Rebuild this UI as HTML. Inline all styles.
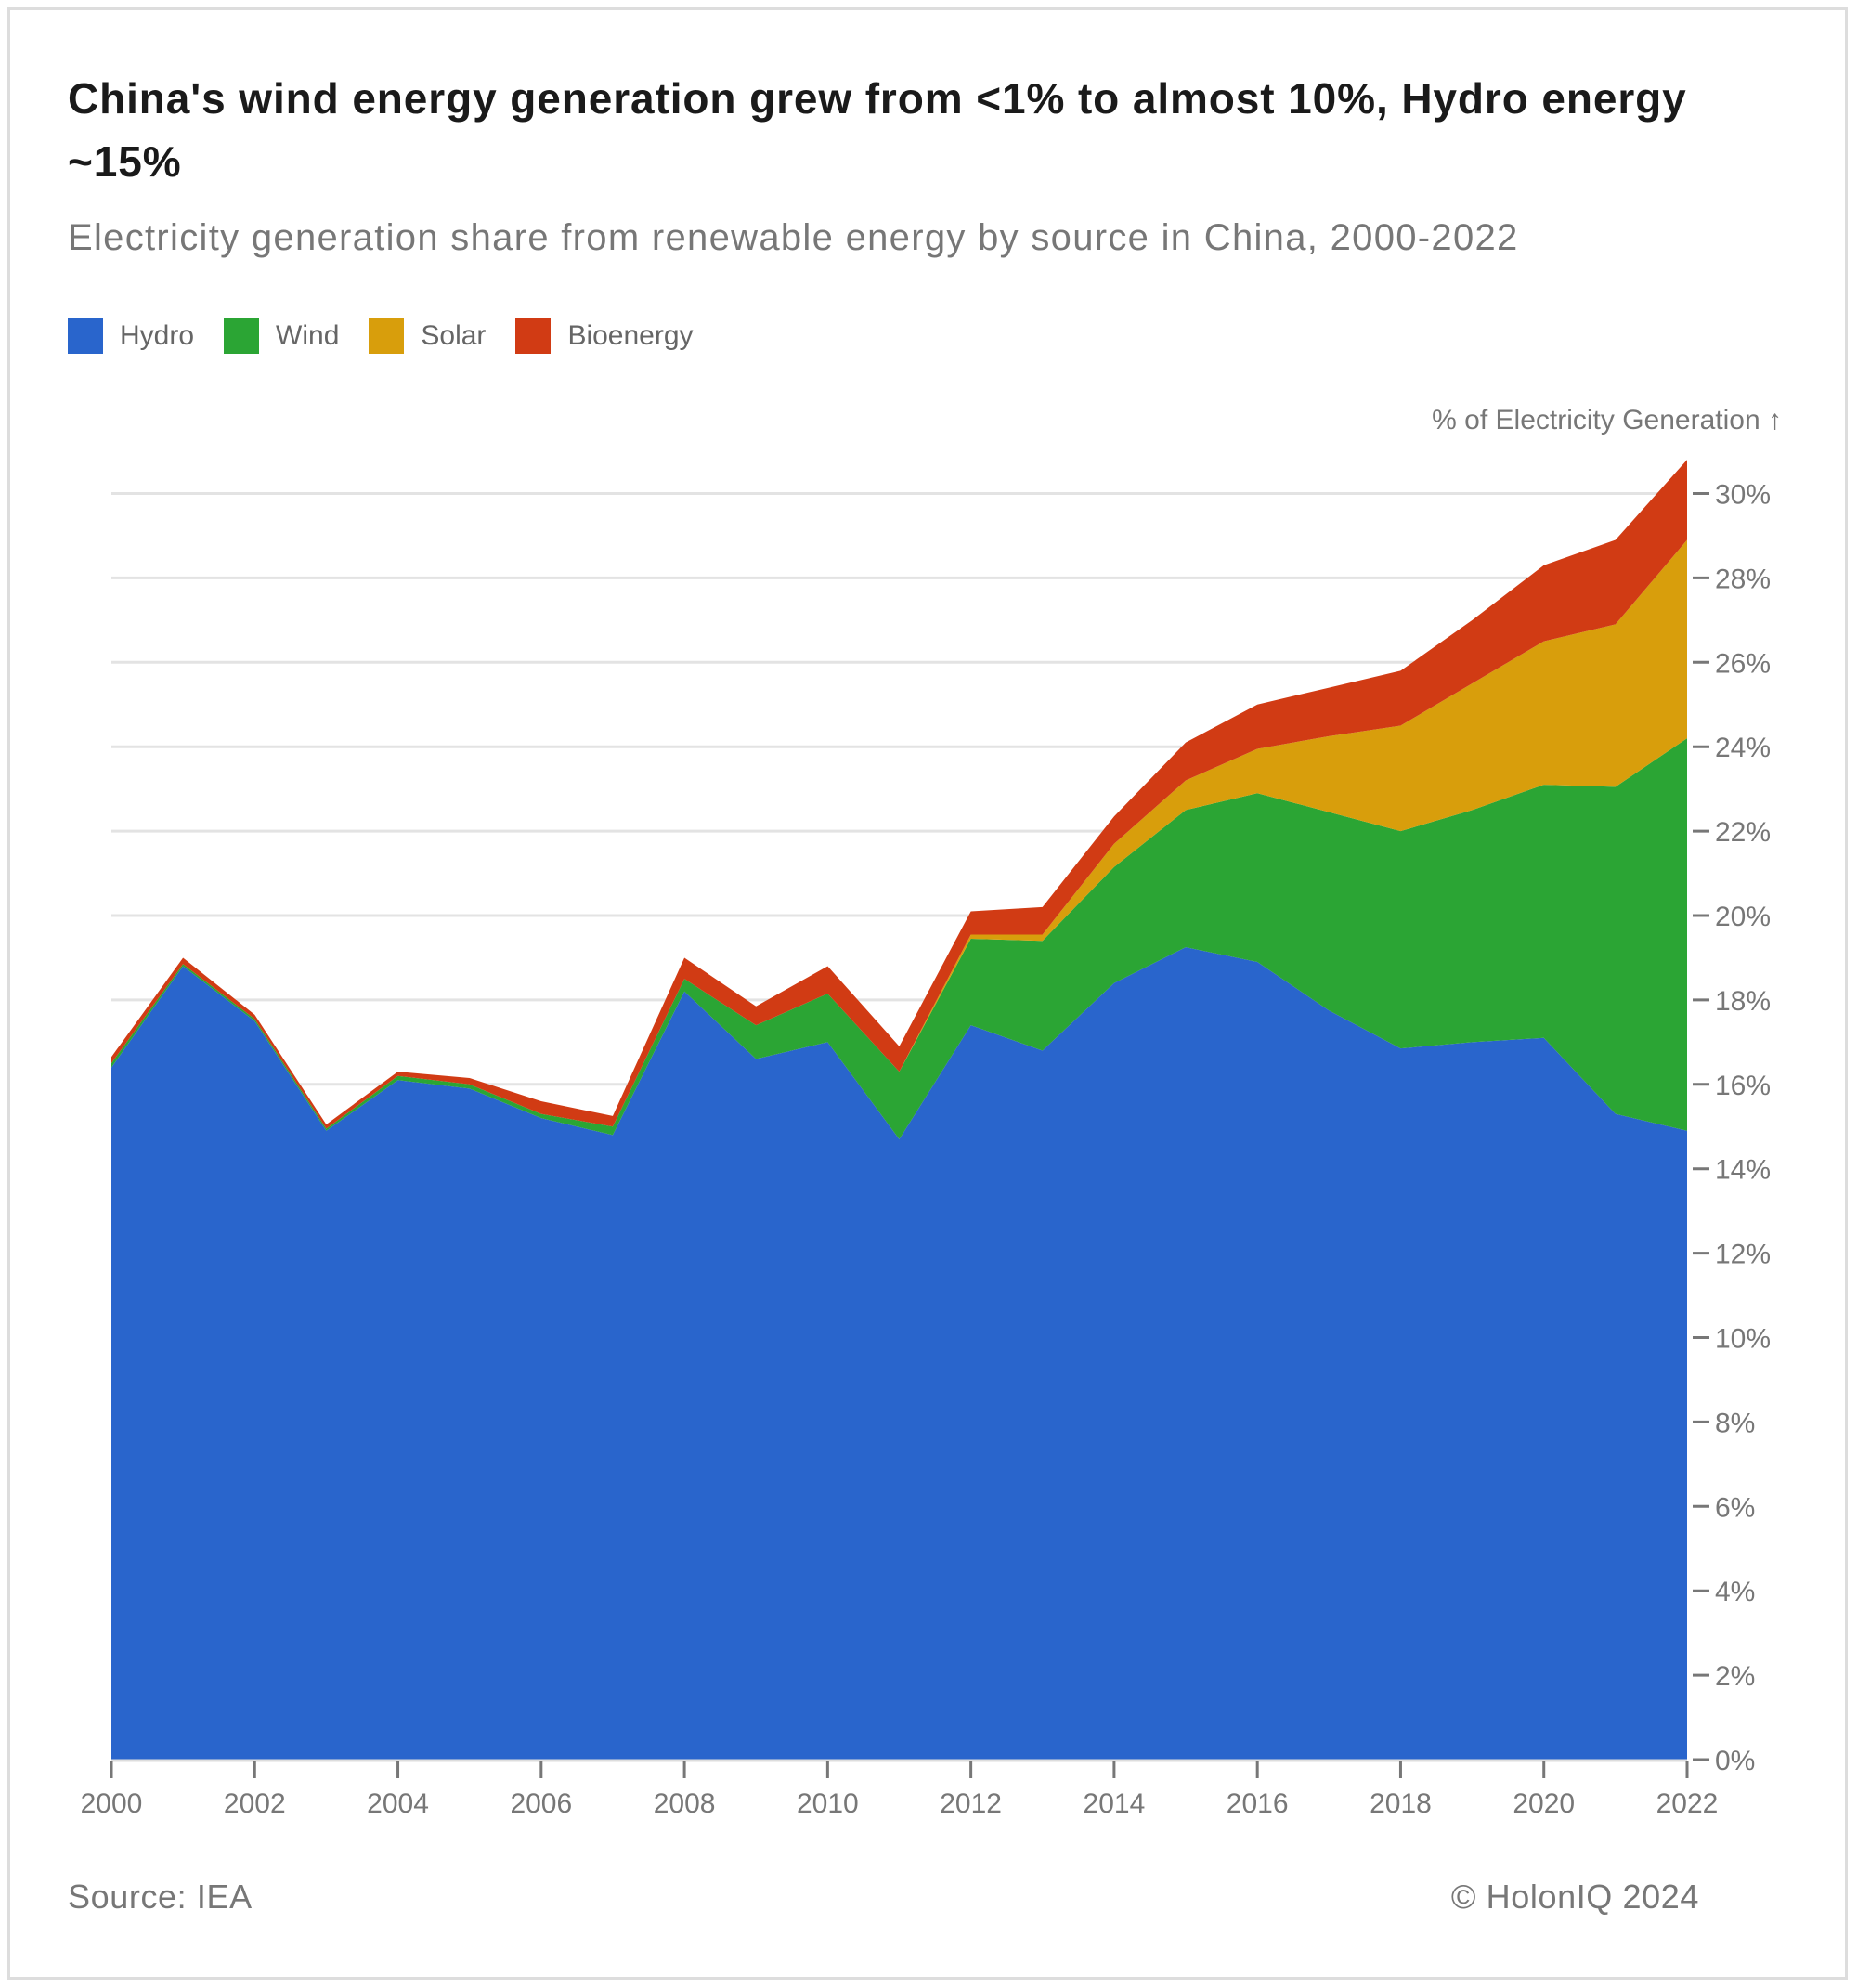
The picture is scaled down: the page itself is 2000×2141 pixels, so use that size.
<!DOCTYPE html>
<html><head><meta charset="utf-8"><style>
html,body{margin:0;padding:0;background:#fff;}
body{width:2000px;height:2141px;position:relative;font-family:"Liberation Sans",sans-serif;overflow:hidden;}
.frame{position:absolute;left:8px;top:8px;width:1982px;height:2124px;border:3px solid #ddd;box-sizing:border-box;}
.title{position:absolute;left:73px;top:72px;width:1850px;font-size:46px;font-weight:bold;color:#1a1a1a;line-height:68px;letter-spacing:0.9px;}
.sub{position:absolute;left:73px;top:234px;font-size:40px;color:#777;letter-spacing:1.3px;}
.legend{position:absolute;left:73px;top:343px;font-size:30px;color:#666;display:flex;align-items:center;}
.legend span.sw{display:inline-block;width:38px;height:38px;margin-right:18px;}
.legend .it{display:flex;align-items:center;margin-right:32px;}
.foot{position:absolute;top:2022px;font-size:36px;color:#777;letter-spacing:0.6px;}
</style></head><body>
<div class="frame"></div>
<div class="title">China's wind energy generation grew from &lt;1% to almost 10%, Hydro energy<br>~15%</div>
<div class="sub">Electricity generation share from renewable energy by source in China, 2000-2022</div>
<div class="legend">
<div class="it"><span class="sw" style="background:#2965cc"></span>Hydro</div>
<div class="it"><span class="sw" style="background:#2ba534"></span>Wind</div>
<div class="it"><span class="sw" style="background:#d89e0c"></span>Solar</div>
<div class="it"><span class="sw" style="background:#d13b14"></span>Bioenergy</div>
</div>
<svg id="chart" width="2000" height="2141" style="position:absolute;left:0;top:0"></svg>
<div class="foot" style="left:73px">Source: IEA</div>
<div class="foot" style="right:170px">© HolonIQ 2024</div>
<script>
const years=[2000,2001,2002,2003,2004,2005,2006,2007,2008,2009,2010,2011,2012,2013,2014,2015,2016,2017,2018,2019,2020,2021,2022];
const hydro=[16.4,18.8,17.5,14.9,16.1,15.9,15.2,14.8,18.2,16.6,17.0,14.7,17.4,16.8,18.4,19.25,18.9,17.75,16.85,17.0,17.1,15.3,14.9];
const wind=[0.1,0.05,0.05,0.05,0.1,0.1,0.1,0.2,0.3,0.8,1.15,1.6,2.05,2.6,2.75,3.25,4.0,4.7,5.15,5.5,6.0,7.75,9.3];
const solar=[0,0,0,0,0,0,0,0,0,0,0,0,0.1,0.15,0.55,0.7,1.05,1.8,2.5,3.0,3.4,3.85,4.7];
const bio=[0.15,0.15,0.1,0.1,0.1,0.15,0.3,0.25,0.5,0.45,0.65,0.6,0.55,0.65,0.65,0.9,1.05,1.15,1.3,1.5,1.8,2.0,1.9];
const yTicks=[0,2,4,6,8,10,12,14,16,18,20,22,24,26,28,30];
const xTicks=[2000,2002,2004,2006,2008,2010,2012,2014,2016,2018,2020,2022];
const NS='http://www.w3.org/2000/svg';
const svg=document.getElementById('chart');
const X0=120,X1=1817,Y0=1895,PER=45.45;
const x=v=>X0+(v-2000)*(X1-X0)/22;
const y=v=>Y0-v*PER;
function mk(t,a){const e=document.createElementNS(NS,t);for(const k in a)e.setAttribute(k,a[k]);svg.appendChild(e);return e;}
yTicks.forEach(t=>{
  if(t>0){const g=mk('line',{x1:X0,x2:X1,y1:y(t),y2:y(t),stroke:'#e3e3e3','stroke-width':3});
  
  }
  const tk=mk('line',{x1:1823,x2:1841,y1:y(t),y2:y(t),stroke:'#777','stroke-width':3});
  
  
  const tx=mk('text',{x:1847,y:y(t)+11,'font-size':30,fill:'#777','font-family':'Liberation Sans, sans-serif'});
  tx.textContent=t+'%';
  
  
});
const series=[[hydro,'#2965cc','hydro'],[wind,'#2ba534','wind'],[solar,'#d89e0c','solar'],[bio,'#d13b14','bioenergy']];
let base=years.map(()=>0);
series.forEach(([vals,col,nm])=>{
  const top=base.map((b,i)=>b+vals[i]);
  let d='M'+years.map((yr,i)=>x(yr)+','+y(top[i])).join(' L');
  for(let i=years.length-1;i>=0;i--)d+=' L'+x(years[i])+','+y(base[i]);
  const p=mk('path',{d:d+'Z',fill:col});
  
  
  base=top;
});
const ax=mk('line',{x1:X0,x2:X1,y1:Y0+1,y2:Y0+1,stroke:'#ddd','stroke-width':3});


xTicks.forEach(t=>{
  const l=mk('line',{x1:x(t),x2:x(t),y1:Y0+2,y2:Y0+20,stroke:'#777','stroke-width':3});
  
  
  const tx=mk('text',{x:x(t),y:Y0+57,'font-size':30,fill:'#777','text-anchor':'middle','font-family':'Liberation Sans, sans-serif'});
  tx.textContent=t;
  
  
});
const at=mk('text',{x:1919,y:462,'font-size':30,fill:'#777','text-anchor':'end','font-family':'Liberation Sans, sans-serif'});
at.textContent='% of Electricity Generation ↑';


</script>
</body></html>
